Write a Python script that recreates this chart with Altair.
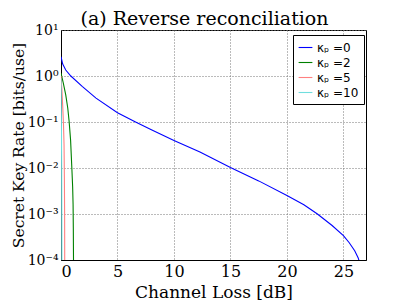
import altair as alt
import pandas as pd

series_names = ["κₚ =0", "κₚ =2", "κₚ =5", "κₚ =10"]
series_colors = ["#0000ff", "#008000", "#ff8080", "#70dede"]
series_widths = [1.1, 1.1, 2.6, 2.4]

# Channel loss (dB) and log10 of secret key rate
k0_x = [0, 0.15, 0.42, 0.87, 1.9, 3.1, 5, 6.6, 8, 10, 12.3, 15, 17.5, 20, 21.5, 22.7, 24, 25, 25.5, 26, 26.3, 26.5]
k0_log = [0.42, 0.26, 0.13, 0.0, -0.23, -0.48, -0.80, -1.0, -1.17, -1.40, -1.65, -1.99, -2.28, -2.60, -2.80, -3.0, -3.25, -3.47, -3.62, -3.80, -3.95, -4.1]
k2_x = [0, 0.2, 0.42, 0.6, 0.72, 0.85, 0.96, 1.03, 1.07, 1.09, 1.11]
k2_log = [0.06, -0.15, -0.41, -0.7, -0.99, -1.4, -2.0, -2.4, -2.8, -3.3, -4.1]
k5_x = [0, 0.08, 0.15, 0.22, 0.27, 0.3, 0.32, 0.33]
k5_log = [0.0, -0.3, -0.65, -1.05, -1.5, -2.2, -3.0, -4.1]
k10_x = [0, 0.02, 0.04, 0.06, 0.07, 0.08]
k10_log = [-0.05, -0.5, -1.2, -2.0, -3.0, -4.1]

x_ticks = [0, 5, 10, 15, 20, 25]
y_tick_values = [1e-4, 1e-3, 1e-2, 1e-1, 1, 10]
y_tick_labels = ["10⁻⁴", "10⁻³", "10⁻²", "10⁻¹", "10⁰", "10¹"]

rows = []
for name, xs, ls in zip(series_names, [k0_x, k2_x, k5_x, k10_x], [k0_log, k2_log, k5_log, k10_log]):
    for i, (x, l) in enumerate(zip(xs, ls)):
        rows.append({"loss": x, "rate": 10 ** l, "series": name, "order": i})
df = pd.DataFrame(rows)

label_expr = ""
for v, lab in zip(y_tick_values[:-1], y_tick_labels[:-1]):
    label_expr += f"datum.value < {v * 3} ? '{lab}' : "
label_expr += f"'{y_tick_labels[-1]}'"

serif = "DejaVu Serif"

chart = alt.Chart(df).mark_line(clip=True).encode(
    x=alt.X("loss:Q",
            scale=alt.Scale(domain=[0, 27], nice=False, zero=False),
            axis=alt.Axis(values=x_ticks, title="Channel Loss [dB]", format="d",
                          labelFont=serif, labelFontSize=16, labelColor="black",
                          titleFont=serif, titleFontSize=17, titleFontWeight="normal",
                          titleColor="black", titlePadding=5, labelPadding=3,
                          tickSize=0, domainColor="black",
                          grid=True, gridDash=[1, 2], gridColor="#777777")),
    y=alt.Y("rate:Q",
            scale=alt.Scale(type="log", domain=[1e-4, 10], nice=False),
            axis=alt.Axis(values=y_tick_values, labelExpr=label_expr,
                          title="Secret Key Rate [bits/use]",
                          labelFont=serif, labelFontSize=14, labelColor="black",
                          titleFont=serif, titleFontSize=15.5, titleFontWeight="normal",
                          titleColor="black", titlePadding=1, labelPadding=3,
                          tickSize=0, domainColor="black",
                          grid=True, gridDash=[1, 2], gridColor="#777777")),
    color=alt.Color("series:N", sort=series_names,
                    scale=alt.Scale(domain=series_names, range=series_colors),
                    legend=alt.Legend(title=None, orient="none", legendX=232, legendY=5,
                                      fillColor="white", strokeColor="black",
                                      padding=5, symbolType="stroke", symbolSize=190,
                                      symbolStrokeWidth=2, rowPadding=1,
                                      labelFont="DejaVu Sans", labelFontSize=12,
                                      labelColor="black")),
    strokeWidth=alt.StrokeWidth("series:N",
                                scale=alt.Scale(domain=series_names, range=series_widths),
                                legend=None),
    order="order:Q",
).properties(
    width=305, height=230,
    title=alt.Title("(a) Reverse reconciliation", font=serif, fontSize=19,
                    fontWeight="normal", color="black", offset=8, dx=-9, dy=14,
                    frame="group"),
    autosize=alt.AutoSizeParams(type="none"),
    padding={"left": 53, "top": 22, "right": 25, "bottom": 47},
).configure_view(stroke="black", strokeWidth=1)

chart.save("out.html", embed_options={"renderer": "svg", "actions": False})
